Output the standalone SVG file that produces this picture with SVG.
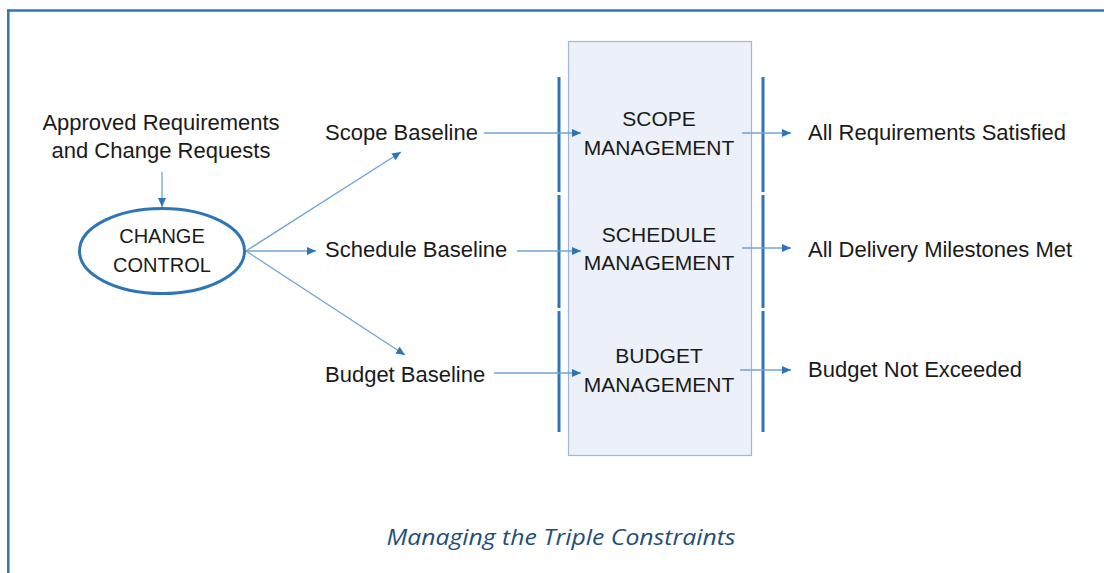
<svg xmlns="http://www.w3.org/2000/svg" width="1104" height="573" viewBox="0 0 1104 573">
<style>
  .t { font-family: "Liberation Sans", Arial, sans-serif; font-size: 22px; fill: #1a1a1a; }
  .c { text-anchor: middle; }
  .bx { font-family: "Liberation Sans", Arial, sans-serif; font-size: 21px; fill: #1a1a1a; text-anchor: middle; }
  .el { font-family: "Liberation Sans", Arial, sans-serif; font-size: 20px; fill: #1a1a1a; text-anchor: middle; }
  .cap { font-family: "Open Sans", "Liberation Sans", sans-serif; font-size: 22px; font-style: italic; fill: #1F4E79; text-anchor: middle; }
  .conn { stroke: #6FA3D8; stroke-width: 1.3; fill: none; marker-end: url(#ah); }
  .bar { stroke: #2E75B6; stroke-width: 3; }
</style>
<defs>
  <marker id="ah" markerUnits="userSpaceOnUse" markerWidth="10" markerHeight="8" refX="9" refY="4" orient="auto">
    <path d="M0,0 L9,4 L0,8 Z" fill="#2E75B6"/>
  </marker>
</defs>
<rect width="1104" height="573" fill="#ffffff"/>
<g id="frame">
  <line x1="7" y1="10.5" x2="1104" y2="10.5" stroke="#2E75B6" stroke-width="2.5"/>
  <line x1="8.3" y1="9.5" x2="8.3" y2="573" stroke="#2E75B6" stroke-width="2.5"/>
</g>
<g id="process-box">
  <rect x="568.5" y="41.5" width="183" height="414" fill="#EBF0F9" stroke="#9DB7E0" stroke-width="1.2"/>
</g>
<g id="bars">
  <line class="bar" x1="559" y1="77" x2="559" y2="192"/>
  <line class="bar" x1="559" y1="195" x2="559" y2="308"/>
  <line class="bar" x1="559" y1="311" x2="559" y2="432"/>
  <line class="bar" x1="763" y1="77" x2="763" y2="192"/>
  <line class="bar" x1="763" y1="195" x2="763" y2="308"/>
  <line class="bar" x1="763" y1="311" x2="763" y2="432"/>
</g>
<g id="connectors">
  <line class="conn" x1="162" y1="172" x2="162" y2="207"/>
  <line class="conn" x1="246" y1="251" x2="401" y2="152"/>
  <line class="conn" x1="246" y1="251" x2="316" y2="251"/>
  <line class="conn" x1="246" y1="251" x2="405" y2="355"/>
  <line class="conn" x1="484" y1="133" x2="581" y2="133"/>
  <line class="conn" x1="517" y1="251" x2="581" y2="251"/>
  <line class="conn" x1="494" y1="373" x2="581" y2="373"/>
  <line class="conn" x1="742" y1="133" x2="791" y2="133"/>
  <line class="conn" x1="742" y1="248" x2="791" y2="248"/>
  <line class="conn" x1="740" y1="370" x2="791" y2="370"/>
</g>
<g id="input">
  <text class="t c" x="161" y="130">Approved Requirements</text>
  <text class="t c" x="161" y="158">and Change Requests</text>
</g>
<g id="change-control">
  <ellipse cx="162" cy="251" rx="82.5" ry="42.5" fill="#ffffff" stroke="#2E75B6" stroke-width="3"/>
  <text class="el" x="162" y="243">CHANGE</text>
  <text class="el" x="162" y="272">CONTROL</text>
</g>
<g id="scope-baseline"><text class="t" x="325" y="140">Scope Baseline</text></g>
<g id="schedule-baseline"><text class="t" x="325" y="257">Schedule Baseline</text></g>
<g id="budget-baseline"><text class="t" x="325" y="382">Budget Baseline</text></g>
<g id="scope-management">
  <text class="bx" x="659" y="126">SCOPE</text>
  <text class="bx" x="659" y="155">MANAGEMENT</text>
</g>
<g id="schedule-management">
  <text class="bx" x="659" y="242">SCHEDULE</text>
  <text class="bx" x="659" y="270">MANAGEMENT</text>
</g>
<g id="budget-management">
  <text class="bx" x="659" y="363">BUDGET</text>
  <text class="bx" x="659" y="392">MANAGEMENT</text>
</g>
<g id="out-scope"><text class="t" x="808" y="140">All Requirements Satisfied</text></g>
<g id="out-schedule"><text class="t" x="808" y="257">All Delivery Milestones Met</text></g>
<g id="out-budget"><text class="t" x="808" y="377">Budget Not Exceeded</text></g>
<g id="caption">
  <text class="cap" x="561" y="545" textLength="349" lengthAdjust="spacingAndGlyphs">Managing the Triple Constraints</text>
</g>
</svg>
